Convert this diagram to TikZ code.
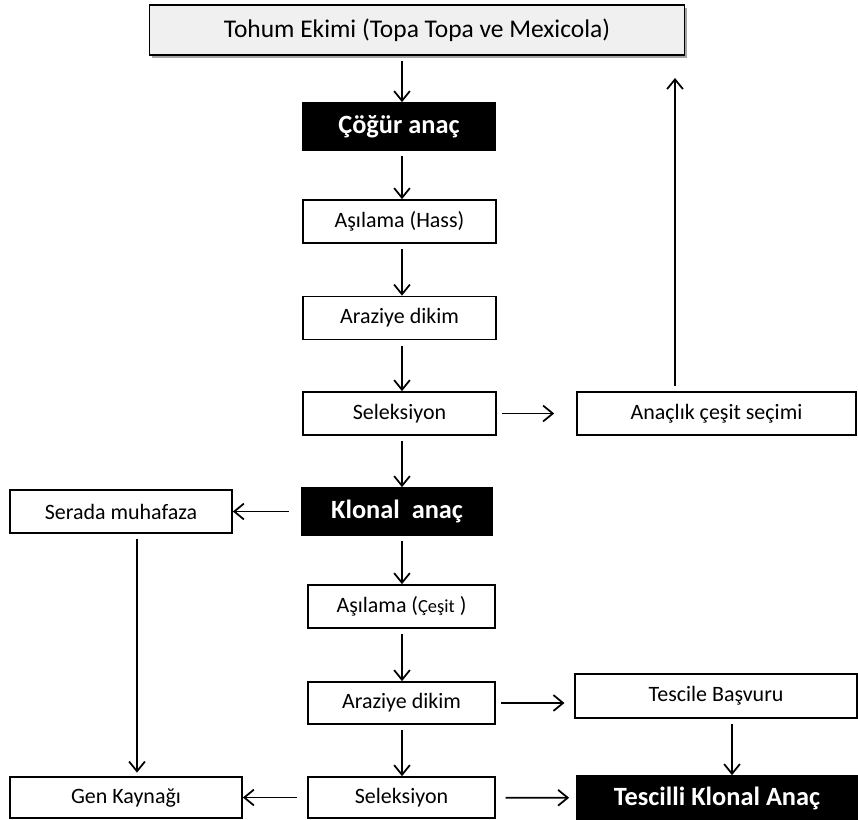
\documentclass[tikz,border=0pt]{standalone}
\usepackage{fontspec}
\setmainfont{Carlito}
\usetikzlibrary{arrows.meta,shadows}

\begin{document}
\begin{tikzpicture}[x=0.02cm,y=-0.02cm]
		\tikzset{
			kutu/.style=
			{draw,line width=1pt,fill=white,inner sep=0pt,font=\fontsize{12.5}{14}\selectfont},
			kara/.style=
			{kutu,fill=black,text=white,font=\fontsize{15}{17}\selectfont\bfseries},
			ok/.style=
			{line width=1pt,shorten <=3pt,-{Straight Barb[length=5.5pt,width=9pt]}},
		}
		\useasboundingbox (0,0) rectangle (858,820);
		% ana kolon
		\node[kutu,fill=gray!12,minimum width=10.7cm,minimum height=1cm,
			font=\fontsize{14.5}{17}\selectfont,
			drop shadow={shadow xshift=1.5pt,shadow yshift=-1.5pt,fill=black!70}]
			(tohum) at (417,30) {Tohum Ekimi (Topa Topa ve Mexicola)};
		\node[kara,minimum width=3.84cm,minimum height=0.94cm] (cogur) at (399,126.5) {Çöğür anaç};
		\node[kutu,minimum width=3.86cm,minimum height=0.86cm] (asi1) at (399.5,221.5) {Aşılama (Hass)};
		\node[kutu,minimum width=3.86cm,minimum height=0.86cm] (arazi1) at (399.5,318) {Araziye dikim};
		\node[kutu,minimum width=3.86cm,minimum height=0.86cm] (sel1) at (399.5,413.5) {Seleksiyon};
		\node[kutu,minimum width=5.58cm,minimum height=0.86cm] (anaclik) at (716.5,413.5) {Anaçlık çeşit seçimi};
		\node[kara,minimum width=3.8cm,minimum height=0.94cm] (klonal) at (397,511.5) {Klonal\ \ anaç};
		\node[kutu,minimum width=4.44cm,minimum height=0.86cm] (serada) at (121,511.5) {Serada muhafaza};
		\node[kutu,minimum width=3.74cm,minimum height=0.86cm] (asi2) at (401.5,606.5)
			{Aşılama ({\fontsize{10.5}{12}\selectfont Çeşit} )};
		\node[kutu,minimum width=3.74cm,minimum height=0.84cm] (arazi2) at (401.5,703) {Araziye dikim};
		\node[kutu,minimum width=5.64cm,minimum height=0.88cm] (tescile) at (716,696) {Tescile Başvuru};
		\node[kutu,minimum width=3.74cm,minimum height=0.82cm] (sel2) at (401.5,797.5) {Seleksiyon};
		\node[kutu,minimum width=4.64cm,minimum height=0.82cm] (gen) at (126,797.5) {Gen Kaynağı};
		\node[kara,minimum width=5.6cm,minimum height=0.88cm] (tescilli) at (717,798) {Tescilli Klonal Anaç};
		% serbest uclar
		\coordinate (dikx) at (402,0);
		\coordinate (ustok) at (675,78);
		\coordinate (serx) at (137,0);
		\coordinate (tesx) at (732,0);
		% oklar
		\draw[ok] (tohum.south -| dikx) -- (cogur.north -| dikx);
		\draw[ok] (cogur.south -| dikx) -- (asi1.north -| dikx);
		\draw[ok] (asi1.south -| dikx) -- (arazi1.north -| dikx);
		\draw[ok] (arazi1.south -| dikx) -- (sel1.north -| dikx);
		\draw[ok,shorten >=12.5pt] (sel1) -- (anaclik);
		\draw[ok] (anaclik.north -| ustok) -- (ustok);
		\draw[ok] (sel1.south -| dikx) -- (klonal.north -| dikx);
		\draw[ok,shorten <=7pt] (klonal) -- (serada);
		\draw[ok] (klonal.south -| dikx) -- (asi2.north -| dikx);
		\draw[ok] (asi2.south -| dikx) -- (arazi2.north -| dikx);
		\draw[ok,shorten >=5.5pt] (arazi2.east) -- (tescile.west |- arazi2.east);
		\draw[ok] (tescile.south -| tesx) -- (tescilli.north -| tesx);
		\draw[ok] (arazi2.south -| dikx) -- (sel2.north -| dikx);
		\draw[ok,shorten >=2pt] (serada.south -| serx) -- (gen.north -| serx);
		\draw[ok,shorten <=5.5pt] (sel2) -- (gen);
		\draw[ok,shorten <=5.5pt,shorten >=4pt] (sel2) -- (tescilli);
\end{tikzpicture}
\end{document}
